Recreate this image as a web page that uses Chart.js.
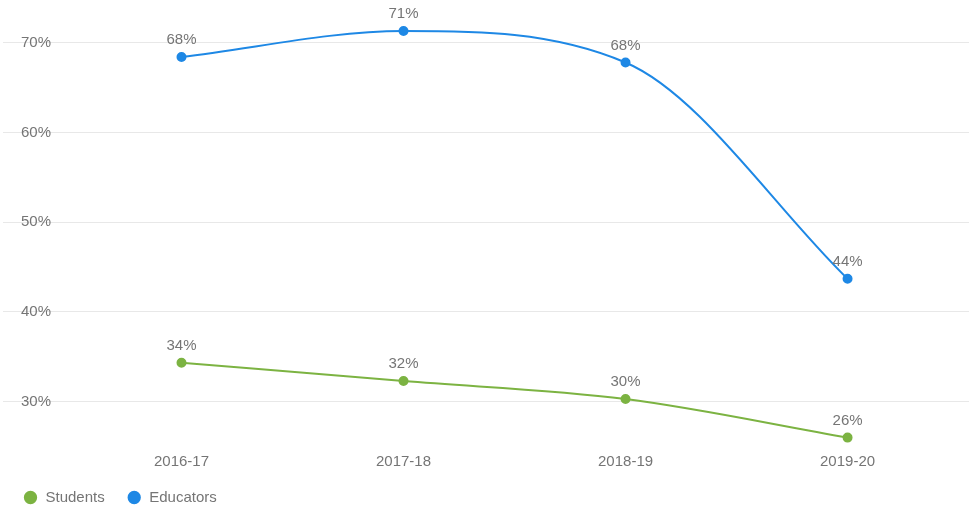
<!DOCTYPE html>
<html>
<head>
<meta charset="utf-8">
<script src="https://cdn.jsdelivr.net/npm/chart.js@4/dist/chart.umd.min.js"></script>
<style>
  html, body { margin: 0; padding: 0; background: #fff; }
  #wrap { width: 970px; height: 510px; }
</style>
</head>
<body>
<div id="wrap"><canvas id="trendChart"></canvas></div>
<script>
// school years on the x axis
var years = ['2016-17', '2017-18', '2018-19', '2019-20'];
// share per year, in percent
var students = [34.35, 32.3, 30.3, 26.0];
var educators = [68.4, 71.3, 67.8, 43.7];
// gridlines / y tick labels
var yTicks = [30, 40, 50, 60, 70];

var textGrey = '#757575';
var green = '#7cb342';
var blue = '#1e88e5';

function toPoints(values) {
  return values.map(function(v, i) { return { x: i, y: v }; });
}

// no extra room for edge labels, the plot goes right to the canvas edges
function noPadding(scale) {
  scale.paddingTop = 0;
  scale.paddingBottom = 0;
  scale.paddingLeft = 0;
  scale.paddingRight = 0;
}

// writes the rounded value above each point
var valueLabels = {
  id: 'valueLabels',
  afterDatasetsDraw: function(chart) {
    var ctx = chart.ctx;
    ctx.save();
    ctx.font = '15px "Liberation Sans", Arial, sans-serif';
    ctx.fillStyle = textGrey;
    ctx.textAlign = 'center';
    ctx.textBaseline = 'middle';
    chart.data.datasets.forEach(function(ds, d) {
      var meta = chart.getDatasetMeta(d);
      meta.data.forEach(function(pt, i) {
        ctx.fillText(Math.round(ds.data[i].y) + '%', pt.x, pt.y - 17);
      });
    });
    ctx.restore();
  }
};

Chart.defaults.font.family = '"Liberation Sans", Arial, sans-serif';
Chart.defaults.font.size = 15;
Chart.defaults.color = textGrey;

new Chart(document.getElementById('trendChart'), {
  type: 'line',
  data: {
    datasets: [
      {
        label: 'Students',
        data: toPoints(students),
        borderColor: green,
        backgroundColor: green,
        borderWidth: 2,
        pointRadius: 4,
        pointBorderWidth: 2,
        cubicInterpolationMode: 'monotone'
      },
      {
        label: 'Educators',
        data: toPoints(educators),
        borderColor: blue,
        backgroundColor: blue,
        borderWidth: 2,
        pointRadius: 4,
        pointBorderWidth: 2,
        cubicInterpolationMode: 'monotone'
      }
    ]
  },
  options: {
    responsive: true,
    maintainAspectRatio: false,
    animation: false,
    layout: {
      autoPadding: false,
      padding: { left: 1, right: 1, top: 0, bottom: -5 }
    },
    plugins: {
      tooltip: { enabled: false },
      legend: {
        position: 'bottom',
        align: 'start',
        labels: {
          usePointStyle: true,
          pointStyle: 'circle',
          boxHeight: 8,
          padding: 22,
          color: textGrey,
          font: { size: 15 }
        }
      }
    },
    scales: {
      x: {
        type: 'linear',
        min: -0.804,
        max: 3.547,
        grid: { display: false, drawTicks: false },
        border: { display: false },
        ticks: {
          padding: 6,
          callback: function(v) { return years[v]; }
        },
        afterBuildTicks: function(scale) {
          scale.ticks = years.map(function(y, i) { return { value: i }; });
        },
        afterFit: function(scale) {
          scale.height = 21.4;
          noPadding(scale);
        }
      },
      y: {
        min: 25,
        max: 74.76,
        grid: { color: '#e8e8e8', drawTicks: false },
        border: { display: false },
        ticks: {
          mirror: true,
          padding: 18,
          callback: function(v) { return v + '%'; }
        },
        afterBuildTicks: function(scale) {
          scale.ticks = yTicks.map(function(v) { return { value: v }; });
        },
        afterFit: function(scale) {
          scale.width = 2;
          noPadding(scale);
        }
      }
    }
  },
  plugins: [valueLabels]
});
</script>
</body>
</html>
